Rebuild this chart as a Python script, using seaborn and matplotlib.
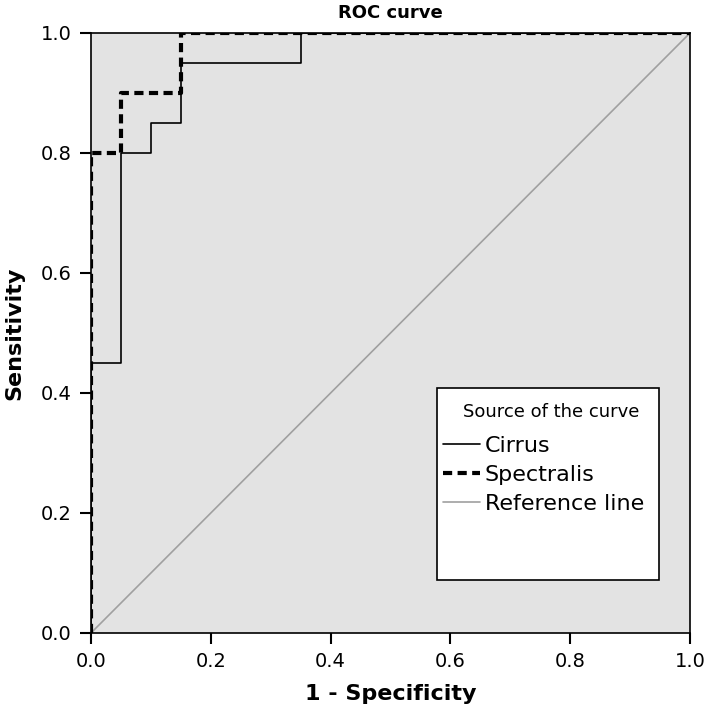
import pandas as pd
import matplotlib.pyplot as plt
from matplotlib.patches import Rectangle
from matplotlib.lines import Line2D
import seaborn as sns

# step vertices of the ROC curves (1 - specificity, sensitivity)
cirrus_fpr = [0.0, 0.0, 0.05, 0.05, 0.10, 0.10, 0.15, 0.15, 0.35, 0.35, 1.0]
cirrus_tpr = [0.0, 0.45, 0.45, 0.80, 0.80, 0.85, 0.85, 0.95, 0.95, 1.0, 1.0]
spectralis_fpr = [0.0, 0.0, 0.05, 0.05, 0.15, 0.15, 1.0]
spectralis_tpr = [0.0, 0.80, 0.80, 0.90, 0.90, 1.0, 1.0]
ref_x = [0.0, 1.0]
ref_y = [0.0, 1.0]
ticks = [0.0, 0.2, 0.4, 0.6, 0.8, 1.0]

sns.set_style("ticks")
plt.rcParams['font.family'] = ['DejaVu Sans']
plt.rcParams['text.color'] = 'black'
plt.rcParams['axes.labelcolor'] = 'black'
plt.rcParams['xtick.color'] = 'black'
plt.rcParams['ytick.color'] = 'black'

fig = plt.figure(figsize=(7.09, 7.15), dpi=100)
ax = fig.add_axes([91/709, 82/715, 599/709, 600/715])
ax.set_facecolor('#e3e3e3')

cirrus = pd.DataFrame({'x': cirrus_fpr, 'y': cirrus_tpr})
spectralis = pd.DataFrame({'x': spectralis_fpr, 'y': spectralis_tpr})
ref = pd.DataFrame({'x': ref_x, 'y': ref_y})

dash = (0, (2.2, 1.3))
sns.lineplot(data=ref, x='x', y='y', sort=False, estimator=None,
             color='#a0a0a0', lw=1.2, ax=ax)
sns.lineplot(data=cirrus, x='x', y='y', sort=False, estimator=None,
             color='black', lw=1.2, ax=ax)
sns.lineplot(data=spectralis, x='x', y='y', sort=False, estimator=None,
             color='black', lw=3, ax=ax, linestyle=dash)

ax.set_xlim(0, 1)
ax.set_ylim(0, 1)
ax.set_xticks(ticks)
ax.set_yticks(ticks)
ax.set_xticklabels([f'{t:.1f}' for t in ticks])
ax.set_yticklabels([f'{t:.1f}' for t in ticks])
ax.tick_params(length=8, width=1.5, labelsize=14, pad=6)
for s in ax.spines.values():
    s.set_linewidth(1.2)
    s.set_color('black')

ax.set_xlabel('1 - Specificity', fontsize=16, fontweight='bold', labelpad=9)
ax.set_ylabel('Sensitivity', fontsize=16, fontweight='bold', labelpad=12)
ax.set_title('ROC curve', fontsize=13, fontweight='bold', pad=11)

# legend box
ax.add_patch(Rectangle((0.577, 0.088), 0.371, 0.32, transform=ax.transAxes,
                       facecolor='white', edgecolor='black', lw=1.2, zorder=5))
handles = [Line2D([], [], color='black', lw=1.2),
           Line2D([], [], color='black', lw=3, linestyle=dash),
           Line2D([], [], color='#a0a0a0', lw=1.2)]
leg = ax.legend(handles, ['Cirrus', 'Spectralis', 'Reference line'],
                title='Source of the curve', loc='upper left',
                bbox_to_anchor=(0.574, 0.397), frameon=False, fontsize=16,
                title_fontsize=13, handlelength=1.7, handletextpad=0.2,
                labelspacing=0.4, borderaxespad=0, borderpad=0.35)
leg.set_zorder(6)
leg._legend_box.align = 'left'
leg._legend_box.sep = 11
leg.get_title().set_position((20, 0))

plt.savefig('out.png', dpi=100)
